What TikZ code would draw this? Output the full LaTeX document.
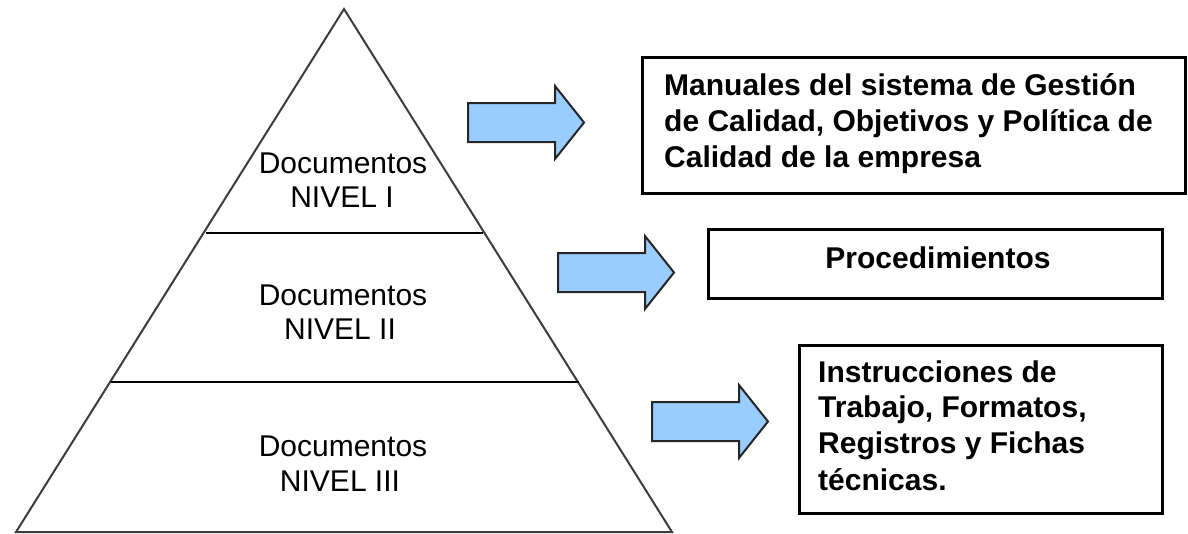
\documentclass[tikz,border=0pt]{standalone}
\usepackage{fontspec}
\setmainfont{Liberation Sans}
\definecolor{arrowfill}{RGB}{153,204,255}
\definecolor{edgegray}{RGB}{60,60,60}
\begin{document}
\begin{tikzpicture}[x=1pt,y=-1pt,
  lvltext/.style={inner sep=0pt,anchor=base,font=\fontsize{30}{36}\selectfont},
  boxtext/.style={inner sep=0pt,anchor=base west,font=\fontsize{30}{36}\selectfont\bfseries},
  frame/.style={draw=black,line width=3pt},
  blockarrow/.style={draw=black!85,line width=2pt,fill=arrowfill,line join=miter}]
\useasboundingbox (0,0) rectangle (1188,533);
% pyramid
\coordinate (apex) at (344,9);
\coordinate (bl) at (16,532);
\coordinate (br) at (672,532);
\draw[edgegray,line width=2pt] (bl) -- (apex) -- (br) -- cycle;
\coordinate (d1l) at (206,233);
\coordinate (d1r) at (483,233);
\coordinate (d2l) at (111,382);
\coordinate (d2r) at (579,382);
\draw[black,line width=2.5pt] (d1l) -- (d1r);
\draw[black,line width=2.5pt] (d2l) -- (d2r);
% level labels
\node[lvltext] (l1a) at (343,173) {Documentos};
\node[lvltext] (l1b) at (342,207) {NIVEL I};
\node[lvltext] (l2a) at (343,305) {Documentos};
\node[lvltext] (l2b) at (340,339) {NIVEL II};
\node[lvltext] (l3a) at (343,456) {Documentos};
\node[lvltext] (l3b) at (340,491) {NIVEL III};
% block arrows
\foreach \name/\x/\y in {a1/468/122.5, a2/558/272.5, a3/652/421.5}{
  \draw[blockarrow] (\x,\y-19.5) -- ++(87,0) -- ++(0,-17) -- ++(29,36.5) -- ++(-29,36.5) -- ++(0,-17) -- ++(-87,0) -- cycle;
}
% boxes
\draw[frame] (642,57) rectangle (1185,193);
\node[boxtext] (t1a) at (664,95) {Manuales del sistema de Gestión};
\node[boxtext] (t1b) at (664,131) {de Calidad, Objetivos y Política de};
\node[boxtext] (t1c) at (664,167) {Calidad de la empresa};
\draw[frame] (708,229) rectangle (1162,298);
\node[inner sep=0pt,anchor=base,font=\fontsize{30}{36}\selectfont\bfseries] (t2) at (938,268) {Procedimientos};
\draw[frame] (799,345) rectangle (1162,513);
\node[boxtext] (t3a) at (818,382) {Instrucciones de};
\node[boxtext] (t3b) at (818,417) {Trabajo, Formatos,};
\node[boxtext] (t3c) at (818,453) {Registros y Fichas};
\node[boxtext] (t3d) at (818,490) {técnicas.};
\end{tikzpicture}
\end{document}
